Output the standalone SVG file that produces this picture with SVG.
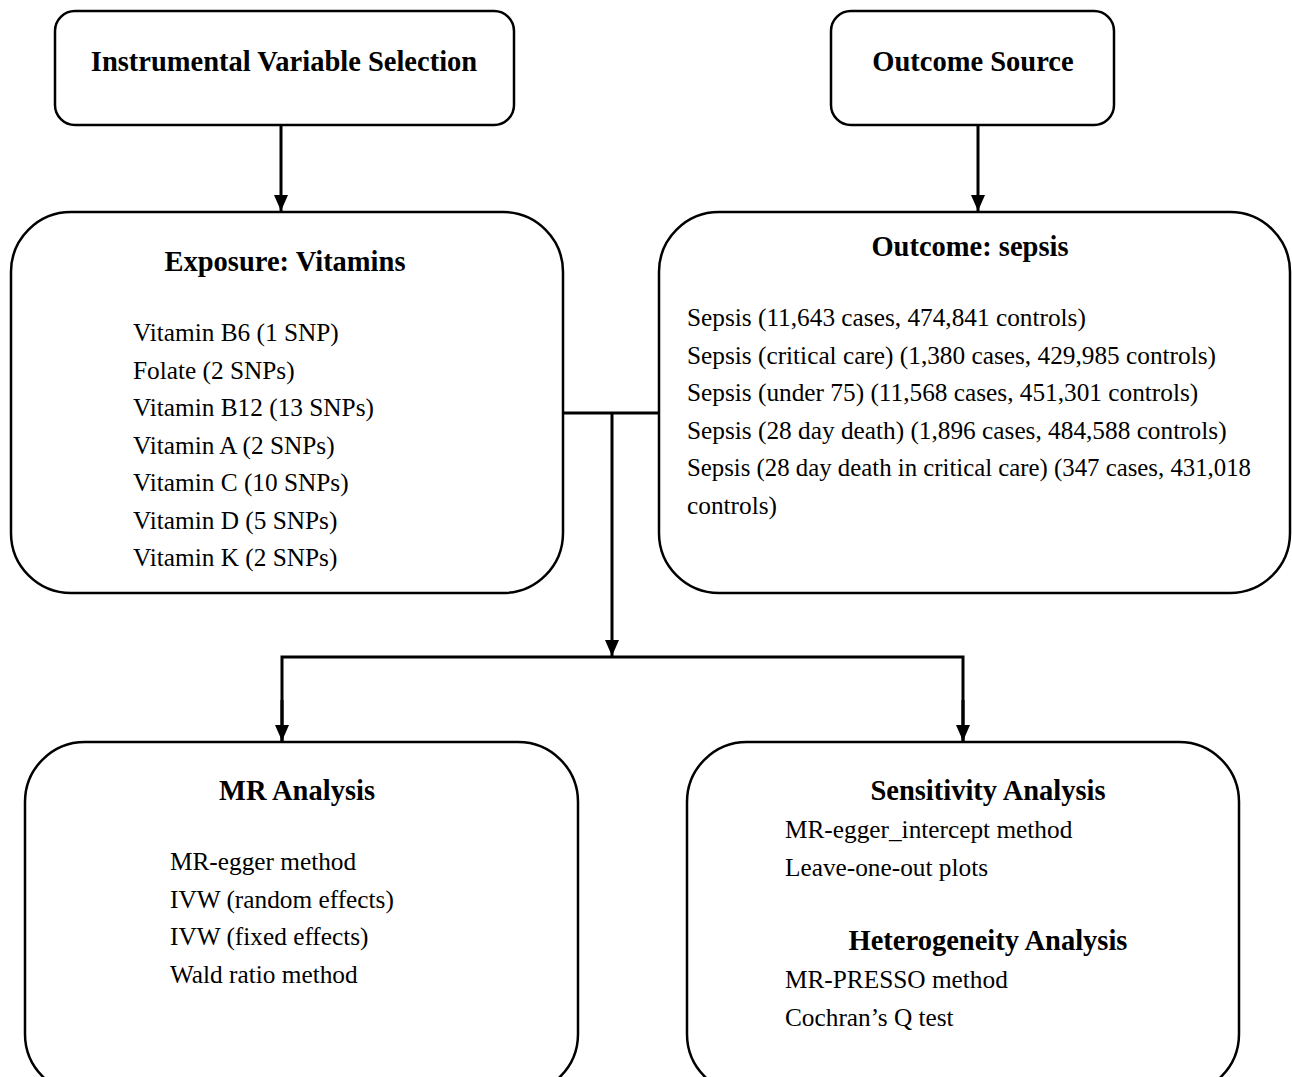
<svg xmlns="http://www.w3.org/2000/svg" width="1292" height="1077" viewBox="0 0 1292 1077">
<style>
.box{fill:#fff;stroke:#000;stroke-width:2.5}
.t{font-family:"Liberation Serif","Times New Roman",serif;fill:#000}
.h{font-size:28.5px;font-weight:bold;text-anchor:middle}
.b{font-size:25.3px}
.c{fill:none;stroke:#000;stroke-width:3}
</style>
<defs>
<marker id="arr" markerWidth="16" markerHeight="16" refX="16" refY="8" orient="auto" markerUnits="userSpaceOnUse" viewBox="0 0 16 16">
<path d="M0,1 L16,8 L0,15 Z" fill="#000"/>
</marker>
</defs>
<rect width="1292" height="1077" fill="#fff"/>
<g id="ivs">
<rect class="box" x="55" y="11" width="459" height="114" rx="20"/>
<text class="t h" x="284" y="71">Instrumental Variable Selection</text>
</g>
<g id="outcome-source">
<rect class="box" x="831" y="11" width="283" height="114" rx="20"/>
<text class="t h" x="973" y="71">Outcome Source</text>
</g>
<g id="exposure">
<rect class="box" x="11" y="212" width="552" height="381" rx="60"/>
<text class="t h" x="285" y="271">Exposure: Vitamins</text>
<text class="t b" x="133" y="341">Vitamin B6 (1 SNP)</text>
<text class="t b" x="133" y="379">Folate (2 SNPs)</text>
<text class="t b" x="133" y="416">Vitamin B12 (13 SNPs)</text>
<text class="t b" x="133" y="454">Vitamin A (2 SNPs)</text>
<text class="t b" x="133" y="491">Vitamin C (10 SNPs)</text>
<text class="t b" x="133" y="529">Vitamin D (5 SNPs)</text>
<text class="t b" x="133" y="566">Vitamin K (2 SNPs)</text>
</g>
<g id="outcome">
<rect class="box" x="659" y="212" width="631" height="381" rx="60"/>
<text class="t h" x="970" y="256">Outcome: sepsis</text>
<text class="t b" x="687" y="326">Sepsis (11,643 cases, 474,841 controls)</text>
<text class="t b" x="687" y="364">Sepsis (critical care) (1,380 cases, 429,985 controls)</text>
<text class="t b" x="687" y="401">Sepsis (under 75) (11,568 cases, 451,301 controls)</text>
<text class="t b" x="687" y="439">Sepsis (28 day death) (1,896 cases, 484,588 controls)</text>
<text class="t b" x="687" y="476" textLength="564" lengthAdjust="spacingAndGlyphs">Sepsis (28 day death in critical care) (347 cases, 431,018</text>
<text class="t b" x="687" y="514">controls)</text>
</g>
<g id="mr">
<rect class="box" x="25" y="742" width="553" height="352" rx="60"/>
<text class="t h" x="297" y="800">MR Analysis</text>
<text class="t b" x="170" y="870">MR-egger method</text>
<text class="t b" x="170" y="908">IVW (random effects)</text>
<text class="t b" x="170" y="945">IVW (fixed effects)</text>
<text class="t b" x="170" y="983">Wald ratio method</text>
</g>
<g id="sensitivity">
<rect class="box" x="687" y="742" width="552" height="352" rx="60"/>
<text class="t h" x="988" y="800">Sensitivity Analysis</text>
<text class="t b" x="785" y="838">MR-egger_intercept method</text>
<text class="t b" x="785" y="876">Leave-one-out plots</text>
<text class="t h" x="988" y="950">Heterogeneity Analysis</text>
<text class="t b" x="785" y="988">MR-PRESSO method</text>
<text class="t b" x="785" y="1026">Cochran’s Q test</text>
</g>
<g id="connectors">
<line class="c" x1="281" y1="125" x2="281" y2="211" marker-end="url(#arr)"/>
<line class="c" x1="978" y1="125" x2="978" y2="211" marker-end="url(#arr)"/>
<line class="c" x1="563" y1="413" x2="659" y2="413"/>
<line class="c" x1="612" y1="413" x2="612" y2="656" marker-end="url(#arr)"/>
<polyline class="c" points="282,741 282,657 963,657 963,741"/>
<line class="c" x1="282" y1="700" x2="282" y2="741" marker-end="url(#arr)"/>
<line class="c" x1="963" y1="700" x2="963" y2="741" marker-end="url(#arr)"/>
</g>
</svg>
